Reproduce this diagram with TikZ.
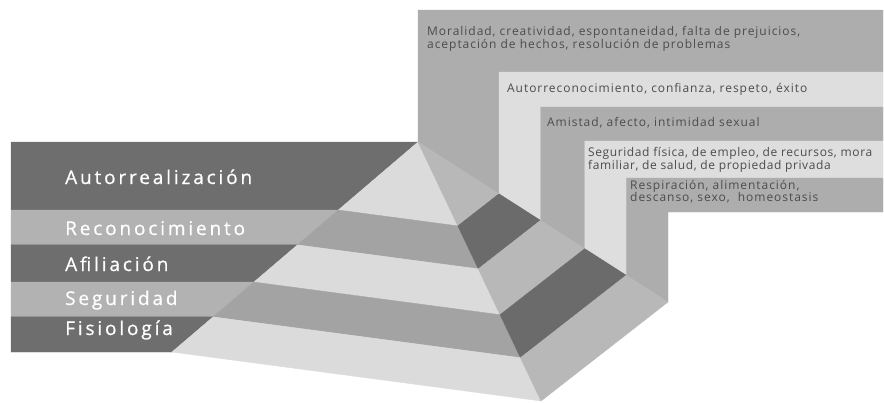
\documentclass[tikz,border=0pt]{standalone}
\usepackage{fontspec}
\setmainfont{Open Sans}
\newfontfamily\levelfont{Open Sans}[LetterSpace=15, FakeBold=0.6]
\newfontfamily\notefont{Open Sans}[LetterSpace=8]
\usetikzlibrary{calc}

\definecolor{bandDark}{gray}{0.43}
\definecolor{bandLight}{gray}{0.70}
\definecolor{faceLight}{gray}{0.86}
\definecolor{faceMid}{gray}{0.64}
\definecolor{sideMid}{gray}{0.72}
\definecolor{sideDark}{gray}{0.42}
\definecolor{panelMid}{gray}{0.68}
\definecolor{panelLight}{gray}{0.87}
\definecolor{noteGray}{gray}{0.3}

\begin{document}
\begin{tikzpicture}[x=1pt,y=-1pt]
   \tikzstyle{face}=[line width=0.4pt, line join=round]
   \tikzstyle{levelname}=[anchor=base west, inner sep=0pt, text=white, font={\levelfont\fontsize{19}{22}\selectfont}]
   \tikzstyle{notetext}=[anchor=north west, inner sep=0pt, align=left, text=noteGray, font={\notefont\fontsize{12}{12}\selectfont}]
   \useasboundingbox (0,0) rectangle (884,402);

\coordinate (A) at (418,142);
\coordinate (L) at (172,352);
\coordinate (F) at (541,401);
\coordinate (R) at (668,302);
\foreach \k/\t in {0/0,1/0.324,2/0.49,3/0.667,4/0.833,5/1} {
    \coordinate (l\k) at ($(A)!\t!(L)$);
    \coordinate (f\k) at ($(A)!\t!(F)$);
    \coordinate (r\k) at ($(A)!\t!(R)$);
}

% panels behind the right edge
\foreach \i/\j/\top/\bot/\c in {0/1/10/72/panelMid, 1/2/72/107/panelLight, 2/3/107/141/panelMid, 3/4/141/178/panelLight, 4/5/178/212/panelMid}
    \filldraw[face, \c] (r\i |- 0,\top) -- (883,\top) -- (883,\bot) -- (r\j |- 0,\bot) -- (r\j) -- (r\i) -- cycle;

% name bands, left face, right face
\foreach \i/\j/\cn/\cl/\cr in {0/1/bandDark/faceLight/sideMid, 1/2/bandLight/faceMid/sideDark, 2/3/bandDark/faceLight/sideMid, 3/4/bandLight/faceMid/sideDark, 4/5/bandDark/faceLight/sideMid} {
    \filldraw[face, \cn] (11,0 |- l\i) -- (l\i) -- (l\j) -- (11,0 |- l\j) -- cycle;
    \filldraw[face, \cl] (l\i) -- (l\j) -- (f\j) -- (f\i) -- cycle;
    \filldraw[face, \cr] (f\i) -- (f\j) -- (r\j) -- (r\i) -- cycle;
}

\node[levelname] (autorrealizacion) at (65,184) {Autorrealización};
\node[levelname] (reconocimiento) at (65,235) {Reconocimiento};
\node[levelname] (afiliacion) at (65,271) {Afiliación};
\node[levelname] (seguridad) at (65,305) {Seguridad};
\node[levelname] (fisiologia) at (65,335) {Fisiología};

\node[notetext] (moralidad) at (427,26) {Moralidad, creatividad, espontaneidad, falta de prejuicios,\\aceptación de hechos, resolución de problemas};
\node[notetext] (autorreconocimiento) at (507,83) {Autorreconocimiento, confianza, respeto, éxito};
\node[notetext] (amistad) at (547,117) {Amistad, afecto, intimidad sexual};
\node[notetext, font={\notefont\addfontfeature{LetterSpace=5}\fontsize{12}{11.5}\selectfont}] (seguridadfisica) at (588,147) {Seguridad física, de empleo, de recursos, mora\\familiar, de salud, de propiedad privada};
\node[notetext] (respiracion) at (630,180) {Respiración, alimentación,\\descanso, sexo,\ \ homeostasis};

\end{tikzpicture}
\end{document}
